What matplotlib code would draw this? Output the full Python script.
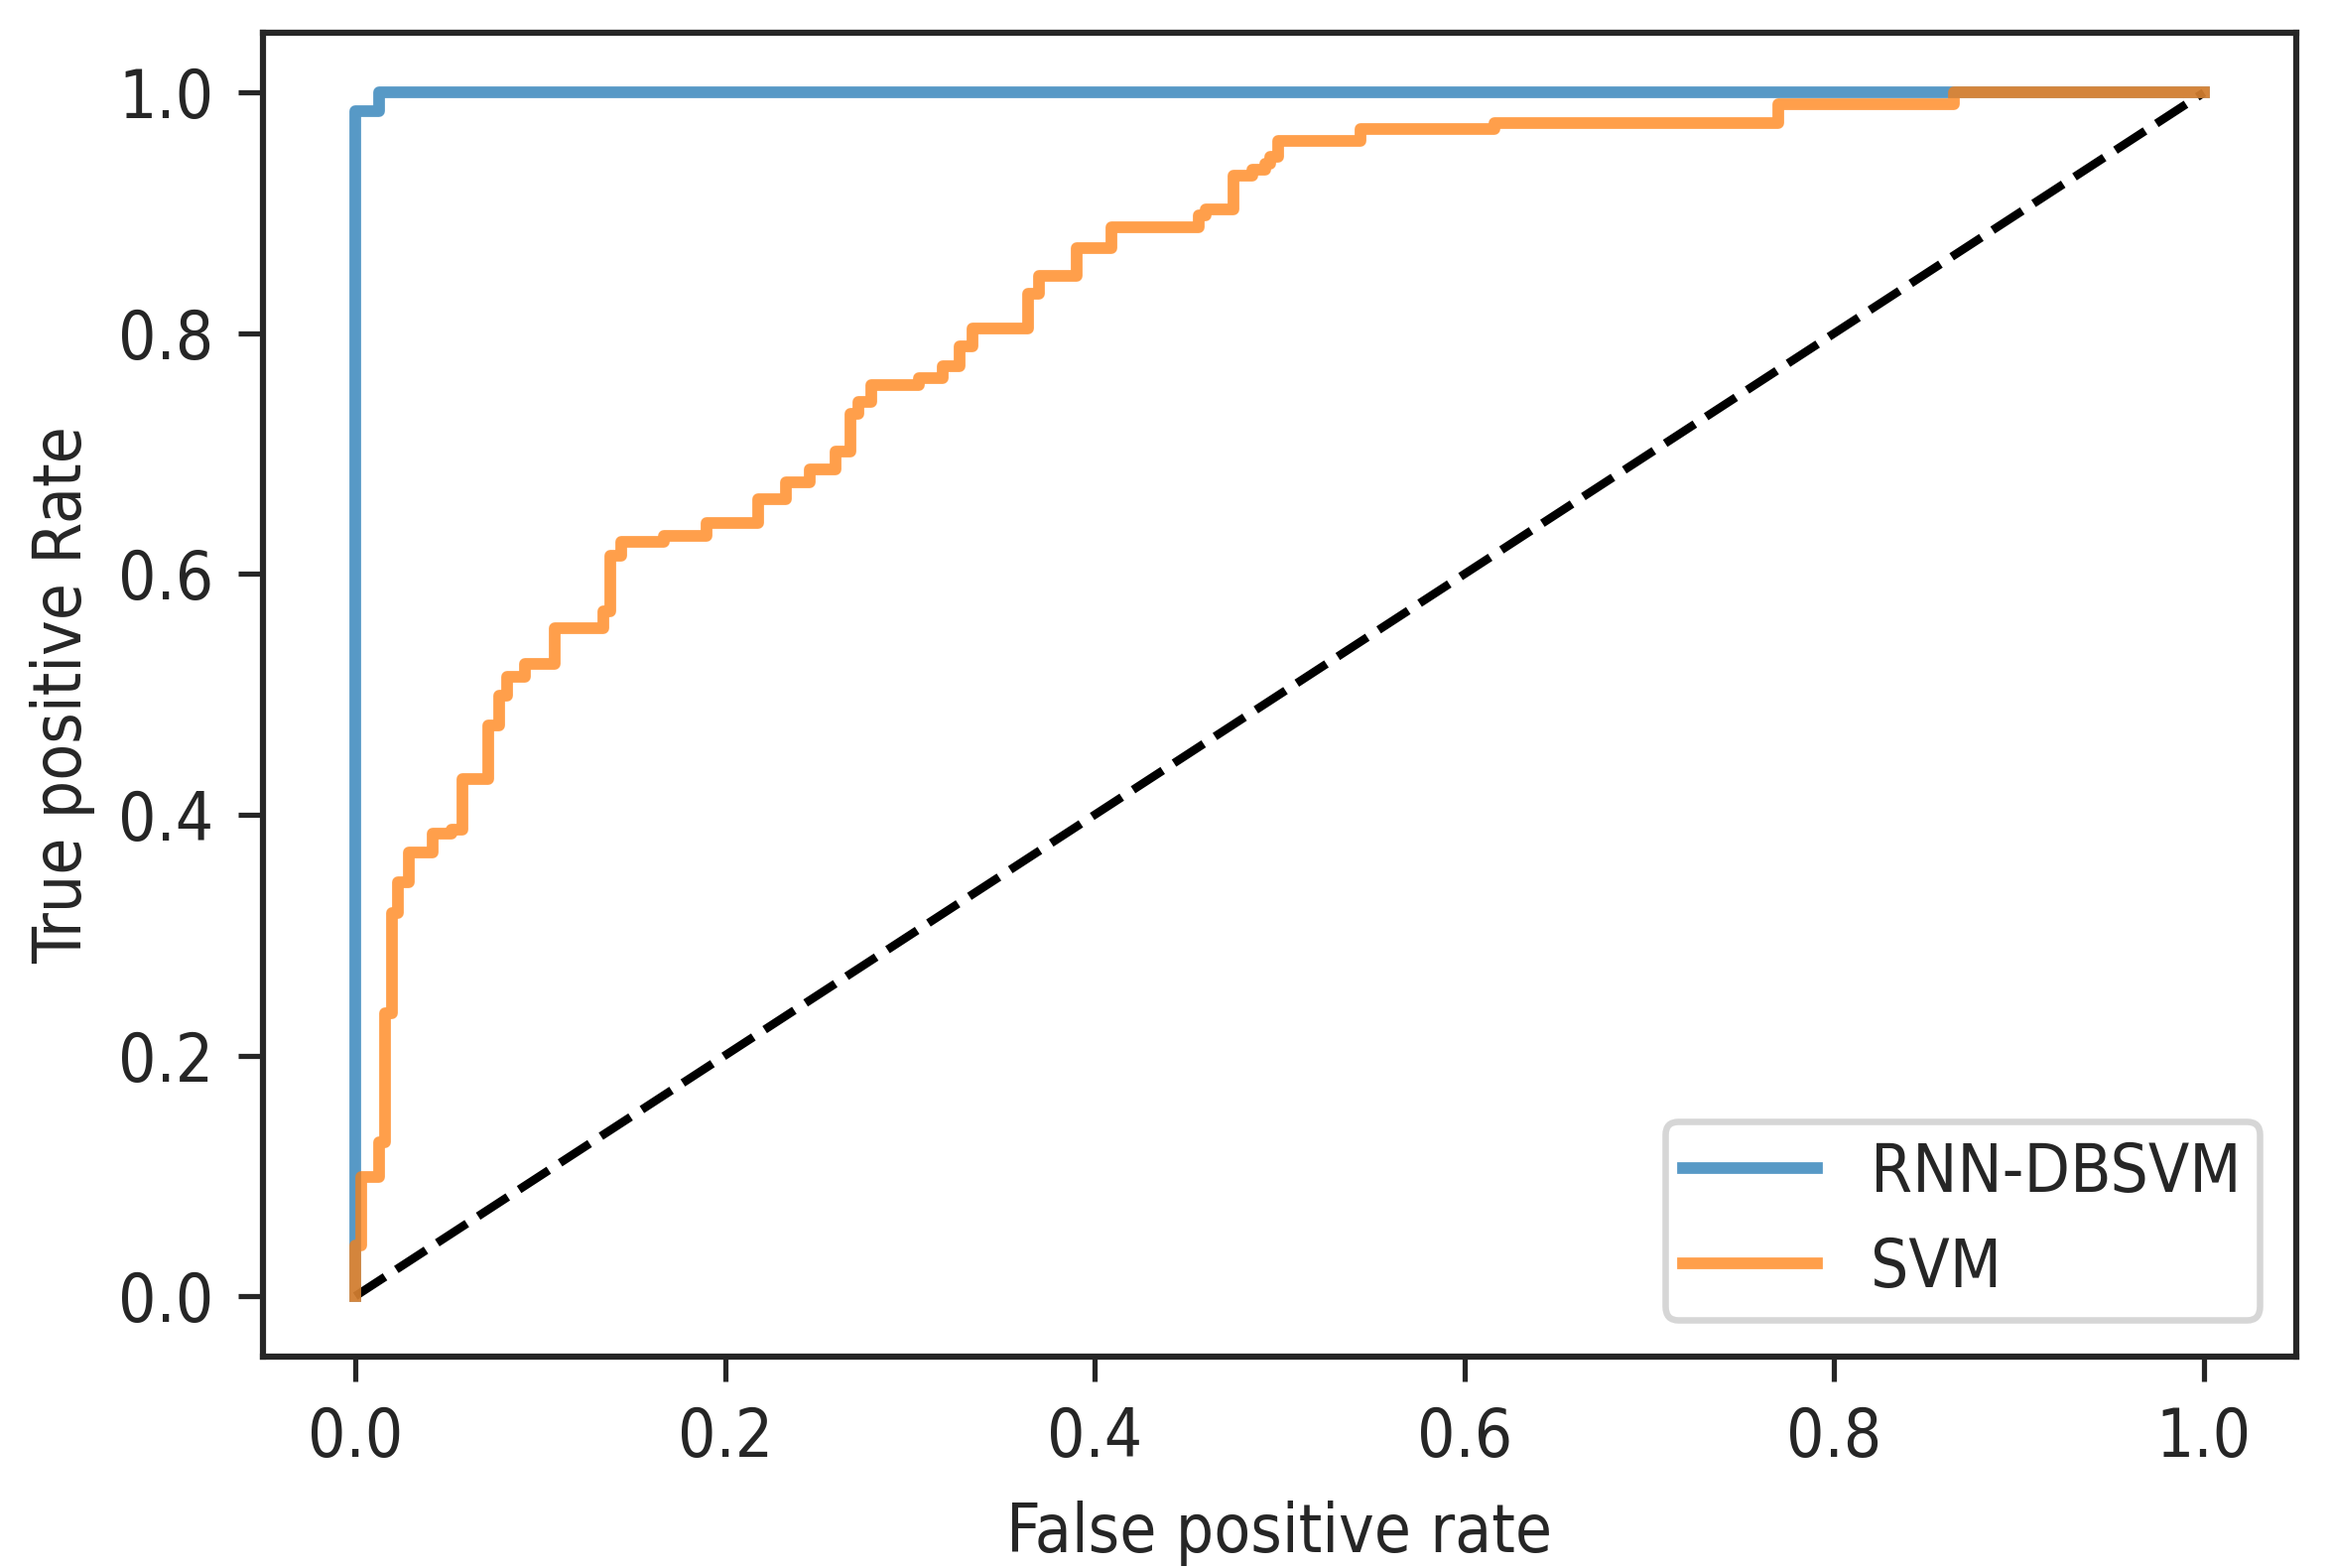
import matplotlib
matplotlib.use("Agg")
import matplotlib.pyplot as plt

# ---- data ----
rnn_fpr = [0.0, 0.0, 0.013, 0.013, 1.0]
rnn_tpr = [0.0, 0.985, 0.985, 1.0, 1.0]

svm_fpr = [0.0, 0.0, 0.003, 0.003, 0.013, 0.013, 0.016, 0.016, 0.020, 0.020,
           0.023, 0.023, 0.029, 0.029, 0.042, 0.042, 0.052, 0.052, 0.058, 0.058,
           0.072, 0.072, 0.078, 0.078, 0.082, 0.082, 0.092, 0.092, 0.108, 0.108,
           0.134, 0.134, 0.138, 0.138, 0.144, 0.144, 0.167, 0.167, 0.190, 0.190,
           0.218, 0.218, 0.233, 0.233, 0.246, 0.246, 0.260, 0.260, 0.268, 0.268,
           0.272, 0.272, 0.279, 0.279, 0.305, 0.305, 0.318, 0.318, 0.327, 0.327,
           0.334, 0.334, 0.364, 0.364, 0.370, 0.370, 0.390, 0.390, 0.409, 0.409,
           0.456, 0.456, 0.460, 0.460, 0.475, 0.475, 0.485, 0.485, 0.492, 0.492,
           0.495, 0.495, 0.499, 0.499, 0.544, 0.544, 0.616, 0.616, 0.770, 0.770,
           0.865, 0.865, 1.0]
svm_tpr = [0.0, 0.042, 0.042, 0.099, 0.099, 0.128, 0.128, 0.235, 0.235, 0.318,
           0.318, 0.344, 0.344, 0.369, 0.369, 0.384, 0.384, 0.388, 0.388, 0.430,
           0.430, 0.474, 0.474, 0.499, 0.499, 0.515, 0.515, 0.525, 0.525, 0.555,
           0.555, 0.569, 0.569, 0.615, 0.615, 0.627, 0.627, 0.632, 0.632, 0.642,
           0.642, 0.662, 0.662, 0.676, 0.676, 0.687, 0.687, 0.702, 0.702, 0.733,
           0.733, 0.743, 0.743, 0.757, 0.757, 0.763, 0.763, 0.773, 0.773, 0.789,
           0.789, 0.804, 0.804, 0.833, 0.833, 0.848, 0.848, 0.871, 0.871, 0.888,
           0.888, 0.898, 0.898, 0.903, 0.903, 0.931, 0.931, 0.936, 0.936, 0.941,
           0.941, 0.947, 0.947, 0.960, 0.960, 0.970, 0.970, 0.975, 0.975, 0.990,
           0.990, 1.0, 1.0]

diag = [0.0, 1.0]
series_labels = ["RNN-DBSVM", "SVM"]
x_label = "False positive rate"
y_label = "True positive Rate"
ticks = [0.0, 0.2, 0.4, 0.6, 0.8, 1.0]

# ---- styling ----
plt.rcParams["font.family"] = ["DejaVu Sans"]
plt.rcParams["font.stretch"] = "condensed"
FS = 10.3
dark = "#262626"

DPI = 470
fig = plt.figure(figsize=(2349 / DPI, 1580 / DPI), dpi=DPI)
ax = fig.add_axes([0.1128, 0.135, 0.9851 - 0.1128, 0.9793 - 0.135])

ax.plot(diag, diag, color="k", lw=1.3, linestyle=(0, (4.2, 1.6)))
ax.plot(rnn_fpr, rnn_tpr, color="#1f77b4", lw=1.8, alpha=0.75, label=series_labels[0])
ax.plot(svm_fpr, svm_tpr, color="#ff7f0e", lw=1.8, alpha=0.75, label=series_labels[1])

ax.set_xlim(-0.05, 1.05)
ax.set_ylim(-0.05, 1.05)
ax.set_xticks(ticks)
ax.set_yticks(ticks)
ax.set_xticklabels([f"{t:.1f}" for t in ticks])
ax.set_yticklabels([f"{t:.1f}" for t in ticks])
ax.tick_params(axis="both", labelsize=FS, length=3.8, width=0.8, pad=3.8,
               color=dark, labelcolor=dark)
for sp in ax.spines.values():
    sp.set_linewidth(0.95)
    sp.set_color(dark)

ax.set_xlabel(x_label, fontsize=FS, color=dark, labelpad=4.5)
ax.set_ylabel(y_label, fontsize=FS, color=dark, labelpad=3.5)

leg = ax.legend(loc="lower right", fontsize=FS, handlelength=2.0,
                borderpad=0.28, labelspacing=0.45, borderaxespad=0.55)
for t in leg.get_texts():
    t.set_color(dark)

fig.savefig("out.png", dpi=DPI)
